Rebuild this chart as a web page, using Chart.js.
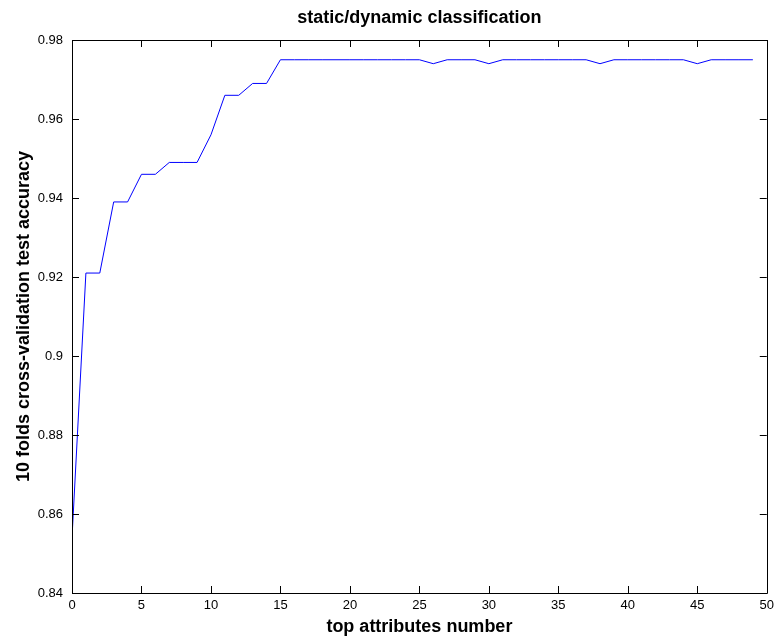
<!DOCTYPE html>
<html>
<head>
<meta charset="utf-8">
<script src="https://cdn.jsdelivr.net/npm/chart.js@4"></script>
<style>
  html, body { margin: 0; padding: 0; background: #fff; }
  #wrap { width: 779px; height: 636px; position: relative; }
</style>
</head>
<body>
<div id="wrap"><canvas id="c" width="779" height="636"></canvas></div>
<script>
const attributes = [0,1,2,3,4,5,6,7,8,9,10,11,12,13,14,15,16,17,18,19,20,21,22,23,24,25,26,27,28,29,30,31,32,33,34,35,36,37,38,39,40,41,42,43,44,45,46,47,48,49];
const accuracy = [0.854,0.921,0.921,0.939,0.939,0.946,0.946,0.949,0.949,0.949,
  0.956,0.966,0.966,0.969,0.969,0.975,0.975,0.975,0.975,0.975,
  0.975,0.975,0.975,0.975,0.975,0.975,0.974,0.975,0.975,0.975,
  0.974,0.975,0.975,0.975,0.975,0.975,0.975,0.975,0.974,0.975,
  0.975,0.975,0.975,0.975,0.975,0.974,0.975,0.975,0.975,0.975];
const xTicks = [0,5,10,15,20,25,30,35,40,45,50];
const yTicks = [0.84,0.86,0.88,0.9,0.92,0.94,0.96,0.98];
const titleText = 'static/dynamic classification';
const xLabel = 'top attributes number';
const yLabel = '10 folds cross-validation test accuracy';

const boxTicks = {
  id: 'boxTicks',
  afterDatasetsDraw(chart) {
    const {ctx, chartArea: a, scales: {x, y}} = chart;
    const L = 7;
    ctx.save();
    ctx.strokeStyle = '#000';
    ctx.lineWidth = 1;
    ctx.beginPath();
    ctx.rect(Math.round(a.left) + 0.5, Math.round(a.top) + 0.5, Math.round(a.right - a.left), Math.round(a.bottom - a.top));
    xTicks.forEach(v => {
      const px = Math.round(x.getPixelForValue(v)) + 0.5;
      ctx.moveTo(px, a.bottom); ctx.lineTo(px, a.bottom - L);
      ctx.moveTo(px, a.top); ctx.lineTo(px, a.top + L);
    });
    yTicks.forEach(v => {
      const py = Math.round(y.getPixelForValue(v)) + 0.5;
      ctx.moveTo(a.left, py); ctx.lineTo(a.left + L, py);
      ctx.moveTo(a.right, py); ctx.lineTo(a.right - L, py);
    });
    ctx.stroke();
    ctx.restore();
  }
};

new Chart(document.getElementById('c'), {
  type: 'line',
  data: {
    datasets: [{
      data: attributes.map((a, i) => ({x: a, y: accuracy[i]})),
      borderColor: '#0000ff',
      borderWidth: 1,
      pointRadius: 0,
      tension: 0,
      fill: false
    }]
  },
  options: {
    responsive: false,
    animation: false,
    devicePixelRatio: 1,
    layout: { padding: { left: 0, right: 9, top: 0, bottom: 0 } },
    plugins: {
      legend: { display: false },
      tooltip: { enabled: false },
      title: {
        display: true,
        fullSize: false,
        text: titleText,
        color: '#000',
        font: { family: 'Liberation Sans', size: 18, weight: 'bold', lineHeight: 1.2 },
        padding: { top: 7, bottom: 11.4 }
      }
    },
    scales: {
      x: {
        type: 'linear',
        min: 0, max: 50,
        afterBuildTicks(s) { s.ticks = xTicks.map(v => ({value: v})); },
        afterFit(s) { s.height = 43; },
        grid: { display: false, drawTicks: false },
        border: { display: false },
        ticks: {
          color: '#000',
          font: { family: 'Liberation Sans', size: 13 },
          padding: 5,
          maxRotation: 0,
          autoSkip: false,
          callback: v => String(v)
        },
        title: {
          display: true,
          text: xLabel,
          color: '#000',
          font: { family: 'Liberation Sans', size: 18, weight: 'bold', lineHeight: 1 },
          padding: { top: 0, bottom: 0 }
        }
      },
      y: {
        type: 'linear',
        min: 0.84, max: 0.98,
        afterBuildTicks(s) { s.ticks = yTicks.map(v => ({value: v})); },
        afterFit(s) { s.width = 72; },
        grid: { display: false, drawTicks: false },
        border: { display: false },
        ticks: {
          color: '#000',
          font: { family: 'Liberation Sans', size: 13 },
          padding: 9,
          autoSkip: false,
          callback: v => String(Number(v.toFixed(2)))
        },
        title: {
          display: true,
          text: yLabel,
          color: '#000',
          font: { family: 'Liberation Sans', size: 18, weight: 'bold', lineHeight: 1 },
          padding: { top: 15, bottom: 0 }
        }
      }
    }
  },
  plugins: [boxTicks]
});
</script>
</body>
</html>
